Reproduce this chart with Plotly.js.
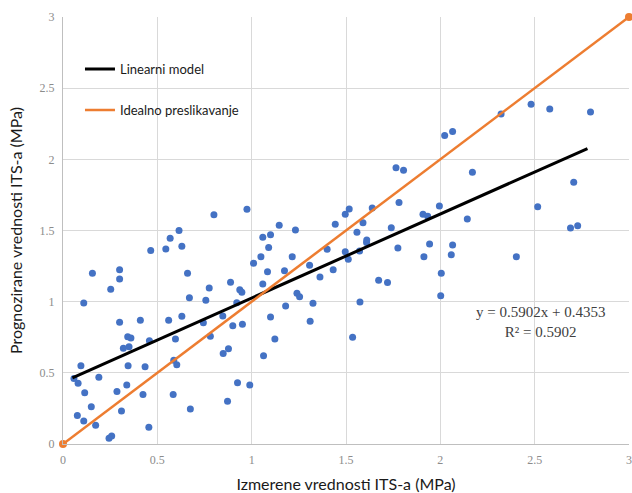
<!DOCTYPE html>
<html>
<head>
<meta charset="utf-8">
<script src="https://cdn.plot.ly/plotly-3.0.1.min.js"></script>
<style>html,body{margin:0;padding:0;background:#fff;}#chart{width:632px;height:493px;}</style>
</head>
<body>
<div id="chart"></div>
<script>
// Measured (x) and predicted (y) ITS values, MPa
const measured = [0.615,0.568,0.465,0.545,0.63,0.156,0.30,0.30,0.66,0.253,0.775,0.11,0.67,0.757,0.30,0.41,0.56,0.63,0.744,0.343,
0.36,0.458,0.596,0.32,0.35,0.781,0.095,0.345,0.435,0.587,0.603,0.058,0.08,0.19,0.115,0.286,0.338,0.424,0.584,0.15,
0.076,0.11,0.173,0.31,0.675,0.455,0.244,0.258,0.80,0.975,1.146,1.232,1.059,1.10,1.09,1.01,1.049,1.215,1.443,1.496,
1.517,1.59,1.558,1.61,1.40,1.496,1.512,1.572,1.084,1.174,1.307,1.362,1.432,1.059,0.888,0.937,0.948,0.921,1.24,1.254,
1.18,1.325,0.847,0.90,0.951,1.10,1.31,1.574,1.535,1.123,1.063,0.849,0.877,0.925,0.99,0.872,2.023,2.065,1.765,1.805,
2.17,1.639,1.781,1.908,1.933,1.995,2.143,1.74,1.609,1.775,1.943,2.065,1.913,2.058,2.005,1.673,1.72,2.002,2.322,2.481,
2.58,2.796,2.707,2.516,2.69,2.728,2.403];
const predicted = [1.50,1.445,1.36,1.37,1.39,1.20,1.225,1.16,1.20,1.087,1.096,0.99,1.028,1.01,0.855,0.87,0.87,0.897,0.852,0.754,
0.745,0.726,0.738,0.672,0.684,0.757,0.55,0.55,0.543,0.588,0.557,0.46,0.426,0.469,0.36,0.368,0.415,0.347,0.347,0.262,
0.20,0.162,0.131,0.232,0.246,0.117,0.04,0.056,1.61,1.65,1.537,1.504,1.452,1.47,1.38,1.27,1.316,1.316,1.544,1.614,
1.651,1.555,1.487,1.433,1.368,1.351,1.298,1.356,1.211,1.218,1.256,1.174,1.225,1.124,1.136,1.084,1.066,0.993,1.059,1.035,
0.97,0.989,0.90,0.831,0.841,0.892,0.862,0.998,0.75,0.738,0.62,0.635,0.67,0.431,0.415,0.30,2.167,2.195,1.94,1.923,
1.909,1.658,1.696,1.614,1.60,1.673,1.581,1.52,1.415,1.377,1.405,1.398,1.316,1.33,1.20,1.15,1.134,1.042,2.319,2.387,
2.354,2.333,1.839,1.666,1.518,1.534,1.316];

// Linear model: y = 0.5902x + 0.4353, drawn over the data span
const slope = 0.5902, intercept = 0.4353;
const modelX = [0.05, 2.78];
const modelY = modelX.map(v => slope * v + intercept);
// Ideal mapping y = x
const idealX = [0, 3];
const idealY = [0, 3];

const legendNames = ['Linearni model', 'Idealno preslikavanje'];
const eqText = 'y = 0.5902x + 0.4353<br>R² = 0.5902';
const xTitle = 'Izmerene vrednosti ITS-a (MPa)';
const yTitle = 'Prognozirane vrednosti ITS-a (MPa)';
const tickVals = [0, 0.5, 1, 1.5, 2, 2.5, 3];
const tickText = ['0', '0.5', '1', '1.5', '2', '2.5', '3'];

const traces = [
  {x: measured, y: predicted, type: 'scatter', mode: 'markers', showlegend: false,
   marker: {color: '#4472C4', size: 7}, cliponaxis: false, hoverinfo: 'skip'},
  {x: modelX, y: modelY, type: 'scatter', mode: 'lines', name: legendNames[0], legendgroup: 'a',
   line: {color: '#000000', width: 3}},
  {x: idealX, y: idealY, type: 'scatter', mode: 'lines', name: legendNames[1], legendgroup: 'b',
   line: {color: '#ED7D31', width: 2.5}, cliponaxis: false},
  {x: idealX, y: idealY, type: 'scatter', mode: 'markers', showlegend: false,
   marker: {color: '#ED7D31', size: 8}, cliponaxis: false}
];

const axisCommon = {
  range: [0, 3], tickvals: tickVals, ticktext: tickText,
  showgrid: true, gridcolor: '#d9d9d9', gridwidth: 1,
  zeroline: false, showline: true, linecolor: '#bfbfbf', linewidth: 1,
  ticks: '', tickfont: {family: 'Liberation Serif', size: 12, color: '#8c8c8c'},
  fixedrange: true
};

const layout = {
  width: 632, height: 493,
  margin: {l: 63, r: 3, t: 17, b: 49},
  paper_bgcolor: '#ffffff', plot_bgcolor: '#ffffff',
  xaxis: Object.assign({}, axisCommon, {
    ticklabelstandoff: 5,
    title: {text: xTitle, font: {family: 'Lato', size: 16, color: '#1a1a1a'}, standoff: 12}
  }),
  yaxis: Object.assign({}, axisCommon, {
    ticklabelstandoff: 5,
    title: {text: yTitle, font: {family: 'Lato', size: 16, color: '#1a1a1a'}, standoff: 12}
  }),
  showlegend: true,
  legend: {
    x: 0.03, y: 0.913, xanchor: 'left', yanchor: 'top',
    bgcolor: 'rgba(255,255,255,0)', borderwidth: 0,
    font: {family: 'Lato', size: 13, color: '#1a1a1a'},
    traceorder: 'grouped', tracegroupgap: 21, itemwidth: 30
  },
  annotations: [{
    x: 2.53, y: 0.857, xref: 'x', yref: 'y', text: eqText, showarrow: false,
    align: 'center', font: {family: 'Liberation Serif', size: 15, color: '#404040'}
  }]
};

Plotly.newPlot('chart', traces, layout, {displayModeBar: false, staticPlot: true});
</script>
</body>
</html>
